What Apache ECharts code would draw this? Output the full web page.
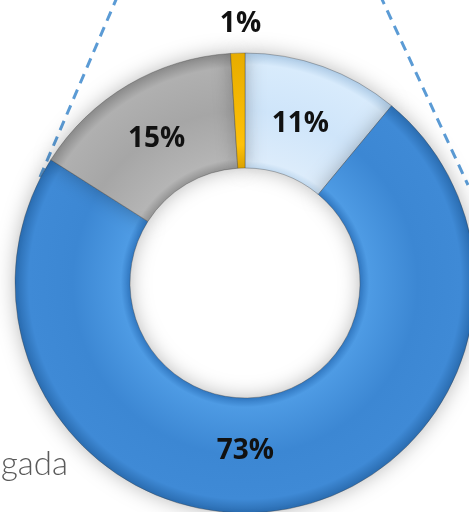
<!DOCTYPE html>
<html><head><meta charset="utf-8">
<script src="https://cdn.jsdelivr.net/npm/echarts@6/dist/echarts.min.js"></script>
<style>html,body{margin:0;padding:0;background:#fff}#c{width:469px;height:512px}</style>
</head><body><div id="c"></div>
<script>
const categories = ['Pendiente', 'Entregada', 'Cancelada', 'Otros'];
const values = [11, 73, 15, 1];
const legendText = 'Entregada';

const CX = 245, CY = 283, R0 = 115, R1 = 230;
function grad(stops){
  return {type:'radial', x:CX, y:CY, r:R1, global:true,
    colorStops: stops.map(s=>({offset:s[0], color:s[1]}))};
}
const fills = [
  grad([[0.49,'#b8d3ec'],[0.53,'#dcecfb'],[0.75,'#cfe5fa'],[0.95,'#d8ebfc'],[1,'#aecbe6']]),
  grad([[0.49,'#2a6fb8'],[0.54,'#4e9be4'],[0.75,'#3c87d3'],[0.94,'#3f8ad6'],[1,'#2a6cb0']]),
  grad([[0.49,'#8c8c8c'],[0.54,'#b5b5b5'],[0.75,'#a6a6a6'],[0.94,'#b0b0b0'],[1,'#8a8a8a']]),
  grad([[0.49,'#d9a000'],[0.6,'#ffc20a'],[1,'#e8ad00']])
];
const labelOffsets = [[-4,6],[-27,-5],[1,7],[1,-84]];

const chart = echarts.init(document.getElementById('c'));
chart.setOption({
  backgroundColor:'#ffffff',
  animation:false,
  graphic:[
    {type:'line', shape:{x1:40,y1:177,x2:118,y2:-5}, style:{stroke:'#5b9bd5',lineWidth:3,lineDash:[10,7]}, z:0},
    {type:'line', shape:{x1:380,y1:-5,x2:468,y2:185}, style:{stroke:'#5b9bd5',lineWidth:3,lineDash:[10,7]}, z:0},
    {type:'text', right: 469-68, top: 448, style:{text:legendText, font:'300 33px Lato', fill:'#5a5a5a', textAlign:'right'}}
  ],
  series:[{
    type:'pie',
    center:[CX, CY],
    radius:[R0, R1],
    startAngle:90,
    clockwise:true,
    label:{show:true, position:'inside', formatter:'{c}%', fontFamily:'Open Sans', fontWeight:'bold', fontSize:28, color:'#111'},
    labelLine:{show:false},
    itemStyle:{borderColor:'rgba(60,60,60,0.35)', borderWidth:1, shadowBlur:20, shadowColor:'rgba(0,0,0,0.28)'},
    data: categories.map((n,i)=>({name:n, value:values[i], itemStyle:{color:fills[i]}, label:{offset:labelOffsets[i]}}))
  }]
});
</script></body></html>
